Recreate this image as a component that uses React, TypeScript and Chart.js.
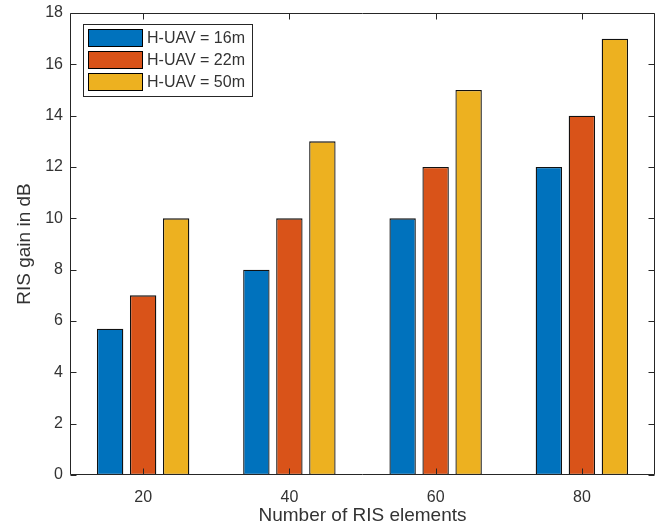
import React, { useEffect, useRef } from "react";
import { Chart, registerables } from "chart.js";

Chart.register(...registerables);

const categories = ["20", "40", "60", "80"];
const seriesLabels = ["H-UAV = 16m", "H-UAV = 22m", "H-UAV = 50m"];
const h16 = [5.7, 8, 10, 12];
const h22 = [7, 10, 12, 14];
const h50 = [10, 13, 15, 17];
const yTicks = [0, 2, 4, 6, 8, 10, 12, 14, 16, 18];

const colors = ["#0072BD", "#D95319", "#EDB120"];
const axisColor = "#262626";
const textColor = "#333333";
const FONT = "'Liberation Sans', Arial, Helvetica, sans-serif";

const boxPlugin = {
  id: "matlabBox",
  afterDatasetsDraw(chart: any) {
    const { ctx, chartArea: a, scales } = chart;
    ctx.save();
    ctx.strokeStyle = axisColor;
    ctx.lineWidth = 1;
    const L = Math.round(a.left) + 0.5;
    const R = Math.round(a.right) - 0.5;
    const T = Math.round(a.top) + 0.5;
    const B = Math.round(a.bottom) - 0.5;
    ctx.beginPath();
    ctx.rect(L, T, R - L, B - T);
    ctx.stroke();
    const tl = 6;
    ctx.beginPath();
    categories.forEach((_, i) => {
      const x = Math.round(scales.x.getPixelForValue(i)) + 0.5;
      ctx.moveTo(x, B);
      ctx.lineTo(x, B - tl);
      ctx.moveTo(x, T);
      ctx.lineTo(x, T + tl);
    });
    yTicks.forEach((v) => {
      const y = Math.round(scales.y.getPixelForValue(v)) + 0.5;
      ctx.moveTo(L, y);
      ctx.lineTo(L + tl, y);
      ctx.moveTo(R, y);
      ctx.lineTo(R - tl, y);
    });
    ctx.stroke();
    ctx.restore();
  },
  afterDraw(chart: any) {
    const { ctx, chartArea: a } = chart;
    ctx.save();
    const bx = Math.round(a.left) + 13;
    const by = Math.round(a.top) + 11;
    const bw = 169;
    const bh = 72;
    ctx.fillStyle = "#ffffff";
    ctx.fillRect(bx, by, bw, bh);
    ctx.strokeStyle = axisColor;
    ctx.lineWidth = 1;
    ctx.strokeRect(bx + 0.5, by + 0.5, bw, bh);
    ctx.font = `16px ${FONT}`;
    ctx.textBaseline = "middle";
    ctx.textAlign = "left";
    chart.data.datasets.forEach((ds: any, i: number) => {
      const sy = by + 5 + i * 22;
      ctx.fillStyle = ds.backgroundColor;
      ctx.fillRect(bx + 5.5, sy + 0.5, 54, 17);
      ctx.strokeStyle = "#000000";
      ctx.strokeRect(bx + 5.5, sy + 0.5, 54, 17);
      ctx.fillStyle = textColor;
      ctx.fillText(ds.label, bx + 64, sy + 9.5);
    });
    ctx.restore();
  },
};

export default function App() {
  const ref = useRef<HTMLCanvasElement>(null);
  useEffect(() => {
    document.body.style.margin = "0";
    const mk = (label: string, data: number[], c: string) => ({
      label,
      data,
      backgroundColor: c,
      borderColor: "#111111",
      borderWidth: 1.3,
      borderSkipped: false,
      categoryPercentage: 0.677,
      barPercentage: 0.8,
    });
    const chart = new Chart(ref.current!, {
      type: "bar",
      data: {
        labels: categories,
        datasets: [
          mk(seriesLabels[0], h16, colors[0]),
          mk(seriesLabels[1], h22, colors[1]),
          mk(seriesLabels[2], h50, colors[2]),
        ],
      },
      options: {
        animation: false,
        responsive: false,
        layout: { padding: { top: 13, right: 4, left: 0, bottom: 0 } },
        plugins: { legend: { display: false }, tooltip: { enabled: false } },
        scales: {
          x: {
            grid: { display: false, drawTicks: false },
            border: { display: false },
            ticks: { color: textColor, font: { family: FONT, size: 16 }, padding: 13 },
            title: {
              display: true,
              text: "Number of RIS elements",
              color: textColor,
              font: { family: FONT, size: 19 },
              padding: { top: 0, bottom: 5 },
            },
            afterFit: (s: any) => {
              s.height = 57;
            },
          },
          y: {
            min: 0,
            max: 18,
            grid: { display: false, drawTicks: false },
            border: { display: false },
            ticks: {
              stepSize: 2,
              color: textColor,
              font: { family: FONT, size: 16 },
              padding: 7,
            },
            title: {
              display: true,
              text: "RIS gain in dB",
              color: textColor,
              font: { family: FONT, size: 19 },
              padding: { top: 13, bottom: 0 },
            },
            afterFit: (s: any) => {
              s.width = 70;
              s.paddingTop = 0;
              s.paddingBottom = 0;
            },
          },
        },
      },
      plugins: [boxPlugin],
    });
    return () => chart.destroy();
  }, []);
  return <canvas ref={ref} width={659} height={532} style={{ display: "block" }} />;
}
